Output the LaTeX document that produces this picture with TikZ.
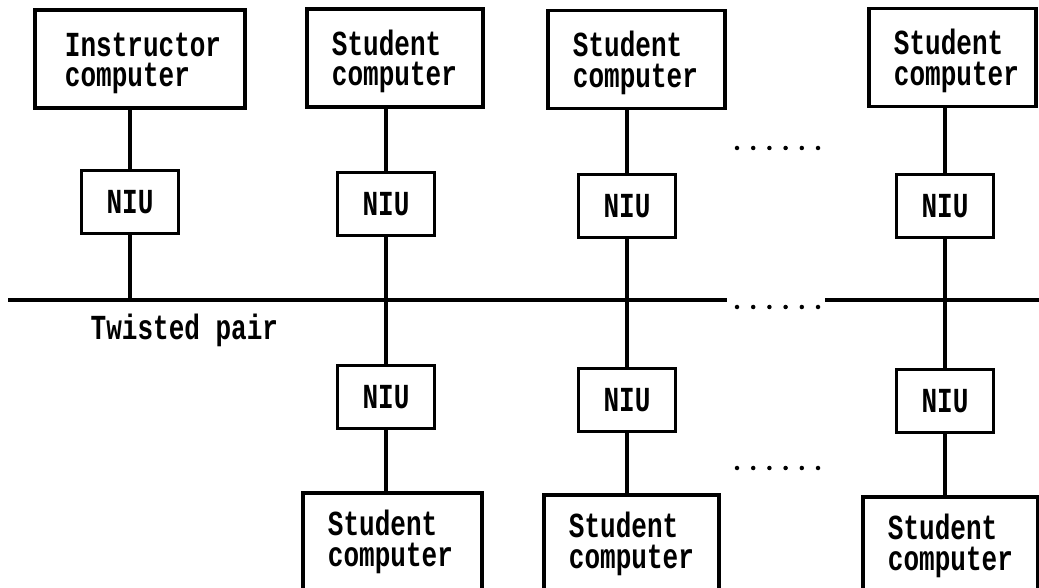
\documentclass[tikz,border=0pt]{standalone}
\usepackage{fontspec}
\newfontfamily\typewriter[FakeStretch=0.74]{Liberation Mono}
\tikzset{
  tw/.style={font=\typewriter\bfseries\fontsize{10}{8.7}\selectfont},
  compbox/.style={draw, line width=0.9pt, tw, align=left, minimum height=0.98cm,
    inner xsep=0.25cm, inner ysep=0pt},
  lowered/.style={execute at begin node={\rule{0pt}{9.2pt}}},
  niubox/.style={draw, line width=0.9pt, tw, minimum width=0.97cm, minimum height=0.63cm},
  wire/.style={line width=0.9pt},
  gapdot/.style={fill, circle, inner sep=0pt, minimum size=0.045cm},
}
\begin{document}
\begin{tikzpicture}[x=0.01cm, y=-0.01cm]
  \useasboundingbox (0,0) rectangle (1039,588);
  \clip (0,0) rectangle (1039,588);

  % upper row of computers
  \node[compbox, lowered, inner xsep=0.30cm, text width=1.50cm] (inst) at (140,59) {Instructor\\computer};
  \node[compbox, lowered, text width=1.26cm] (top1) at (395,58) {Student\\computer};
  \node[compbox, lowered, text width=1.27cm] (top2) at (636.5,59.5) {Student\\computer};
  \node[compbox, lowered, text width=1.17cm] (top3) at (952.5,57.5) {Student\\computer};

  % upper network interface units
  \node[niubox] (n0) at (130,202) {NIU};
  \node[niubox] (n1) at (386,204) {NIU};
  \node[niubox] (n2) at (627,206) {NIU};
  \node[niubox] (n3) at (945,206) {NIU};

  % lower network interface units
  \node[niubox] (b1) at (386,397) {NIU};
  \node[niubox] (b2) at (627,400) {NIU};
  \node[niubox] (b3) at (945,401) {NIU};

  % lower row of computers
  \node[compbox, text width=1.29cm] (bot1) at (392.5,542) {Student\\computer};
  \node[compbox, text width=1.25cm] (bot2) at (631.5,544) {Student\\computer};
  \node[compbox, text width=1.25cm] (bot3) at (950.5,546) {Student\\computer};

  % twisted-pair bus
  \coordinate (busL) at (8,300);
  \coordinate (busA) at (727,300);
  \coordinate (busB) at (825,300);
  \coordinate (busR) at (1039,300);
  \draw[wire] (busL) -- (busA);
  \draw[wire] (busB) -- (busR);
  \node[tw, anchor=base west, inner sep=0pt] (tp) at (90,340) {Twisted pair};

  % drops from computers to the bus
  \draw[wire] (n0.north |- inst.south) -- (n0.north);
  \draw[wire] (n0.south) -- (n0.south |- busL);
  \draw[wire] (n1.north |- top1.south) -- (n1.north);
  \draw[wire] (n1.south) -- (b1.north);
  \draw[wire] (b1.south) -- (b1.south |- bot1.north);
  \draw[wire] (n2.north |- top2.south) -- (n2.north);
  \draw[wire] (n2.south) -- (b2.north);
  \draw[wire] (b2.south) -- (b2.south |- bot2.north);
  \draw[wire] (n3.north |- top3.south) -- (n3.north);
  \draw[wire] (n3.south) -- (b3.north);
  \draw[wire] (b3.south) -- (b3.south |- bot3.north);

  % ellipsis dots for the omitted stations
  \foreach \i in {0,...,5} {
    \node[gapdot] (du\i) at (737+16.2*\i,148) {};
    \node[gapdot] (dm\i) at (737+16.2*\i,307) {};
    \node[gapdot] (dl\i) at (737+16.2*\i,468) {};
  }
\end{tikzpicture}
\end{document}
